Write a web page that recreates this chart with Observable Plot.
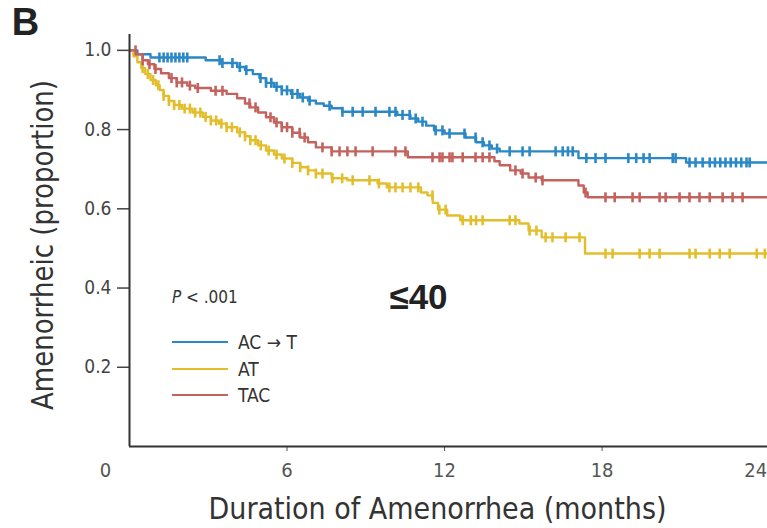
<!DOCTYPE html>
<html>
<head>
<meta charset="utf-8">
<script src="https://cdn.jsdelivr.net/npm/d3@7"></script>
<script src="https://cdn.jsdelivr.net/npm/@observablehq/plot@0.6"></script>
<style>
  html, body { margin: 0; padding: 0; background: #fff; }
  #chart { width: 767px; height: 528px; }
</style>
</head>
<body>
<div id="chart"></div>
<script>
// ---- Data ----
const seriesNames = ["AC \u2192 T", "AT", "TAC"];
const seriesColors = ["#2a88c6", "#e3be2c", "#c4625e"];

const acTTime = [0, 0.3, 0.8, 2.9, 3.5, 4.1, 4.4, 4.7, 4.95, 5.2, 5.5, 5.8, 6.15, 6.5, 6.8, 7.1, 7.4, 7.7, 8.1, 10.2, 10.7, 11.0, 11.3, 11.6, 12.0, 12.8, 13.2, 13.5, 13.8, 14.1, 17.1, 21.2];
const acTSurv = [1.0, 0.99, 0.982, 0.975, 0.968, 0.958, 0.95, 0.94, 0.93, 0.918, 0.908, 0.899, 0.89, 0.881, 0.873, 0.866, 0.86, 0.854, 0.845, 0.837, 0.828, 0.82, 0.81, 0.798, 0.79, 0.78, 0.768, 0.76, 0.752, 0.745, 0.728, 0.717];
const acTCensor = [1.14, 1.3, 1.45, 1.6, 1.75, 1.9, 2.05, 2.2, 3.43, 3.54, 3.92, 4.2, 4.45, 4.99, 5.2, 5.4, 5.6, 5.8, 6.0, 6.2, 6.4, 6.6, 6.86, 7.62, 8.11, 8.5, 8.88, 9.37, 9.9, 10.13, 10.4, 10.67, 10.9, 11.16, 11.66, 11.92, 12.19, 12.76, 13.18, 13.45, 13.71, 14.0, 14.48, 14.97, 15.24, 16.23, 16.5, 16.7, 16.88, 17.4, 17.75, 18.13, 19.0, 19.3, 19.58, 19.81, 20.69, 20.8, 21.33, 21.56, 21.83, 22.1, 22.3, 22.5, 22.7, 22.9, 23.1, 23.3, 23.5, 23.62];

const atTime = [0, 0.15, 0.3, 0.45, 0.6, 0.8, 1.0, 1.15, 1.3, 1.5, 1.7, 2.0, 2.4, 2.8, 3.1, 3.4, 3.7, 4.1, 4.4, 4.6, 4.9, 5.2, 5.5, 5.8, 6.2, 6.5, 6.8, 7.1, 7.7, 8.3, 9.45, 9.8, 11.1, 11.35, 11.55, 11.75, 12.1, 12.6, 14.85, 15.2, 15.7, 17.35];
const atSurv = [1.0, 0.985, 0.97, 0.955, 0.94, 0.925, 0.912, 0.9, 0.885, 0.872, 0.862, 0.853, 0.843, 0.832, 0.823, 0.815, 0.806, 0.793, 0.783, 0.773, 0.76, 0.747, 0.737, 0.727, 0.716, 0.705, 0.697, 0.689, 0.677, 0.672, 0.664, 0.654, 0.641, 0.634, 0.615, 0.598, 0.583, 0.571, 0.563, 0.545, 0.528, 0.487];
const atCensor = [0.5, 0.7, 0.9, 1.1, 1.3, 1.5, 1.7, 1.9, 2.1, 2.3, 2.5, 2.7, 2.9, 3.1, 3.3, 3.5, 3.7, 3.9, 4.2, 4.4, 4.6, 4.8, 5.0, 5.3, 5.6, 5.9, 6.2, 6.5, 6.8, 7.1, 7.35, 7.73, 8.1, 8.5, 9.14, 9.5, 9.9, 10.13, 10.4, 10.7, 11.0, 11.54, 11.8, 12.04, 12.69, 13.0, 13.2, 13.45, 14.48, 14.7, 15.24, 15.5, 15.85, 16.11, 16.61, 17.14, 18.13, 18.4, 19.43, 19.81, 20.19, 21.33, 21.56, 22.1, 22.48, 22.86, 23.89, 24.2];

const tacTime = [0, 0.25, 0.5, 0.7, 0.95, 1.2, 1.5, 1.8, 2.2, 2.5, 3.1, 3.7, 4.1, 4.4, 4.6, 4.9, 5.2, 5.5, 5.8, 6.2, 6.5, 6.8, 7.1, 7.7, 10.6, 13.9, 14.1, 14.5, 14.9, 15.2, 15.7, 17.1, 17.3, 17.45];
const tacSurv = [1.0, 0.99, 0.975, 0.965, 0.953, 0.942, 0.93, 0.919, 0.911, 0.905, 0.898, 0.89, 0.879, 0.866, 0.856, 0.843, 0.831, 0.818, 0.806, 0.792, 0.78, 0.768, 0.755, 0.745, 0.73, 0.72, 0.71, 0.697, 0.689, 0.679, 0.672, 0.659, 0.641, 0.629];
const tacCensor = [0.23, 0.5, 0.76, 0.99, 1.6, 1.8, 2.0, 2.3, 2.6, 3.28, 3.54, 4.57, 4.8, 5.37, 5.6, 5.8, 6.0, 6.2, 6.48, 6.67, 7.35, 7.7, 8.0, 8.3, 8.61, 9.26, 10.13, 10.51, 11.54, 11.81, 11.92, 12.19, 12.3, 12.69, 13.18, 13.45, 13.71, 14.7, 14.97, 15.47, 15.73, 17.37, 18.13, 18.48, 19.16, 19.43, 20.19, 20.42, 20.95, 21.33, 21.71, 22.1, 22.59, 22.97, 23.35];

const xTicksInner = [6, 12, 18];
const xTickLast = [24];
const yTicks = [0.2, 0.4, 0.6, 0.8, 1.0];
const xMax = 24.3;
const pLabel = ["P", " < .001"];
const groupLabel = "\u226440";
const panelLabel = "B";
const xTitle = "Duration of Amenorrhea (months)";
const yTitle = "Amenorrheic (proportion)";

// ---- Build tables ----
const series = [
  {name: seriesNames[0], color: seriesColors[0], time: acTTime, surv: acTSurv, censor: acTCensor},
  {name: seriesNames[1], color: seriesColors[1], time: atTime, surv: atSurv, censor: atCensor},
  {name: seriesNames[2], color: seriesColors[2], time: tacTime, surv: tacSurv, censor: tacCensor}
];
function curveRows(s) {
  const rows = s.time.map((t, i) => ({t, s: s.surv[i]}));
  rows.push({t: xMax, s: s.surv[s.surv.length - 1]});
  return rows;
}
function censorRows(s) {
  return s.censor.map(t => ({t, s: s.surv[Math.max(0, d3.bisectRight(s.time, t) - 1)]}));
}

const NARROW = "'Liberation Sans Narrow', 'Arial Narrow', 'DejaVu Sans Condensed', sans-serif";
const tickSymbol = {draw(ctx, size) { const h = Math.sqrt(size / Math.PI); ctx.moveTo(0, -h); ctx.lineTo(0, h); }};

const marks = [
  Plot.axisY(yTicks, {tickSize: 12, tickPadding: 6, tickFormat: d3.format(".1f"), fontSize: 19, color: "#444", strokeWidth: 1.5, label: null}),
  Plot.axisX(xTicksInner, {tickSize: 5, tickPadding: 11, fontSize: 20, color: "#555", label: null}),
  Plot.axisX(xTickLast, {tickSize: 0, tickPadding: 16, dx: -4, fontSize: 20, color: "#555", label: null}),
  Plot.axisX([0], {tickSize: 0, tickPadding: 16, dx: -24, fontSize: 20, color: "#555", label: null}),
];
for (const s of series) {
  marks.push(Plot.line(curveRows(s), {x: "t", y: "s", curve: "step-after", stroke: s.color, strokeWidth: 2.4}));
  marks.push(Plot.dot(censorRows(s), {x: "t", y: "s", symbol: tickSymbol, r: 5, stroke: s.color, strokeWidth: 2.6, fill: "none"}));
}
marks.push(
  Plot.ruleX([0], {stroke: "#333", strokeWidth: 2}),
  Plot.ruleY([0], {stroke: "#333", strokeWidth: 2}),
  Plot.text([panelLabel], {text: d => d, frameAnchor: "top-left", lineAnchor: "middle", dx: -104, dy: -12, fontSize: 38, fontWeight: "bold", fontFamily: "'Liberation Sans', sans-serif", fill: "#222", textAnchor: "middle"}),
  Plot.text([groupLabel], {text: d => d, frameAnchor: "top-left", lineAnchor: "middle", dx: 289, dy: 263, fontSize: 35, fontWeight: "bold", fontFamily: "'Liberation Sans', sans-serif", fill: "#222", textAnchor: "middle"}),
  Plot.text([xTitle], {text: d => d, frameAnchor: "bottom", lineAnchor: "middle", dx: -11, dy: 63, fontSize: 30, fill: "#333", ariaLabel: "x-title"})
);

const chart = Plot.plot({
  width: 767,
  height: 528,
  marginLeft: 129,
  marginRight: 0,
  marginTop: 34,
  marginBottom: 82,
  x: {domain: [0, xMax]},
  y: {domain: [0, 1.04]},
  style: {fontFamily: NARROW, background: "white", overflow: "visible"},
  marks
});

const svg = d3.select(chart);
svg.selectAll('g[aria-label="x-title"] text').attr("textLength", 437).attr("lengthAdjust", "spacingAndGlyphs");

// Y-axis title
svg.append("text")
  .attr("transform", "translate(42,245) rotate(-90)")
  .attr("text-anchor", "middle")
  .attr("dy", "0.35em")
  .attr("font-family", NARROW)
  .attr("font-size", 30)
  .attr("fill", "#333")
  .attr("textLength", 330)
  .attr("lengthAdjust", "spacingAndGlyphs")
  .text(yTitle);

// Legend
const lg = svg.append("g").attr("font-family", NARROW).attr("fill", "#333").attr("text-anchor", "start");
const pt = lg.append("text").attr("x", 172).attr("y", 303).attr("font-size", 17);
pt.append("tspan").attr("font-style", "italic").text(pLabel[0]);
pt.append("tspan").text(pLabel[1]);
const legendY = [342, 369, 395];
series.forEach((s, i) => {
  lg.append("line").attr("x1", 172).attr("x2", 228).attr("y1", legendY[i]).attr("y2", legendY[i])
    .attr("stroke", s.color).attr("stroke-width", 2);
  lg.append("text").attr("x", 238).attr("y", legendY[i]).attr("dy", "0.35em").attr("font-size", 19).text(s.name);
});

document.getElementById("chart").appendChild(chart);
</script>
</body>
</html>
